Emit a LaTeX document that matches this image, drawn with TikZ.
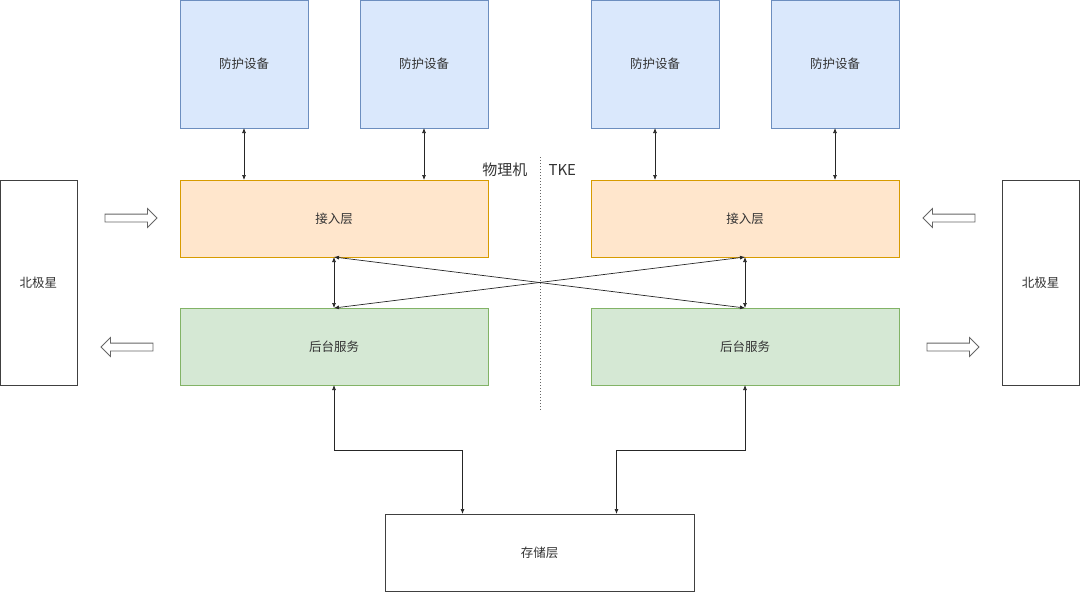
\documentclass[tikz,border=0pt]{standalone}
\usepackage{fontspec}
\setmainfont{Noto Sans CJK SC}
\usetikzlibrary{shapes.arrows, arrows.meta, positioning, calc}

\definecolor{blueFill}{HTML}{DAE8FC}
\definecolor{blueLine}{HTML}{6C8EBF}
\definecolor{orangeFill}{HTML}{FFE6CC}
\definecolor{orangeLine}{HTML}{D79B00}
\definecolor{greenFill}{HTML}{D5E8D4}
\definecolor{greenLine}{HTML}{82B366}
\definecolor{txt}{HTML}{333333}

\begin{document}
\begin{tikzpicture}[
  x=1pt, y=-1pt,
  font=\fontsize{12.5}{14}\selectfont, text=txt,
  box/.style={rectangle, draw, line width=0.8pt, outer sep=0pt, align=center},
  protbox/.style={box, fill=blueFill, draw=blueLine, minimum width=128pt, minimum height=128pt},
  accbox/.style={box, fill=orangeFill, draw=orangeLine, minimum width=308pt, minimum height=77pt},
  svcbox/.style={box, fill=greenFill, draw=greenLine, minimum width=308pt, minimum height=77pt},
  plainbox/.style={box, draw=black!75, fill=white},
  arrow/.style={{Latex[length=5pt,width=4pt]}-{Latex[length=5pt,width=4pt]}, line width=0.7pt, black!85},
  fatarrow/.style={single arrow, draw=black!60, fill=white, line width=0.8pt, minimum height=52pt,
    inner sep=3.5pt, single arrow head extend=5.5pt, outer sep=0pt}
]
\useasboundingbox (0,0) rectangle (1080,592);

% protection devices
\node (prot1) [protbox] at (244,64) {防护设备};
\node (prot2) [protbox] at (424,64) {防护设备};
\node (prot3) [protbox] at (655,64) {防护设备};
\node (prot4) [protbox] at (835,64) {防护设备};

% access and service layers
\node (accL) [accbox] at (334,218.5) {接入层};
\node (accR) [accbox] at (745,218.5) {接入层};
\node (svcL) [svcbox] at (334,346.5) {后台服务};
\node (svcR) [svcbox] at (745,346.5) {后台服务};

% polaris and storage
\node (polarL) [plainbox, minimum width=77pt, minimum height=205pt] at (38.5,282.5) {北极星};
\node (polarR) [plainbox, minimum width=77pt, minimum height=205pt] at (1040.5,282.5) {北极星};
\node (store) [plainbox, minimum width=309pt, minimum height=77pt] at (539.5,552.5) {存储层};

% divider
\draw [dotted, line width=1pt, black!60] (540,157) -- (540,410);
\node (phys) [anchor=east, font=\fontsize{15}{17}\selectfont] at (531,170) {物理机};
\node (tke) [anchor=west, font=\fontsize{15}{17}\selectfont] at (545,170) {TKE};

% block arrows
\node (inL) [fatarrow] at (129,218) {};
\node (outL) [fatarrow, shape border rotate=180] at (129,347) {};
\node (inR) [fatarrow, shape border rotate=180] at (951,218) {};
\node (outR) [fatarrow] at (951,347) {};

\draw [arrow] (prot1) -- (prot1 |- accL.north);
\draw [arrow] (prot2) -- (prot2 |- accL.north);
\draw [arrow] (prot3) -- (prot3 |- accR.north);
\draw [arrow] (prot4) -- (prot4 |- accR.north);

\draw [arrow] (accL.south) -- (svcL.north);
\draw [arrow] (accR.south) -- (svcR.north);
\draw [arrow] (accL.south) -- (svcR.north);
\draw [arrow] (svcL.north) -- (accR.south);

\draw [arrow] (svcL.south) -- ++(0,65) -| ([xshift=-77pt]store.north);
\draw [arrow] (svcR.south) -- ++(0,65) -| ([xshift=77pt]store.north);

\end{tikzpicture}
\end{document}
